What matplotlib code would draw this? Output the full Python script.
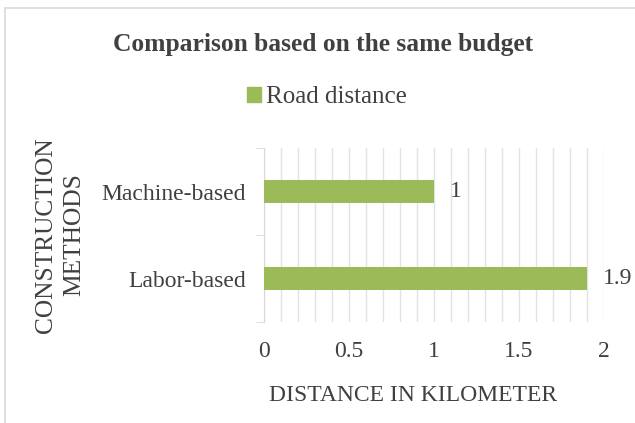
import matplotlib.pyplot as plt
from matplotlib.patches import Rectangle, Patch
from matplotlib.ticker import MultipleLocator, FixedLocator

categories = ['Labor-based', 'Machine-based']
distance = [1.9, 1.0]
value_labels = ['1.9', '1']
xticks = [0, 0.5, 1, 1.5, 2]
xtick_labels = ['0', '0.5', '1', '1.5', '2']

plt.rcParams['font.family'] = ['Liberation Serif', 'DejaVu Serif']
txt = '#404040'
green = '#9BBB59'

fig = plt.figure(figsize=(6.35, 4.23), dpi=100)
ax = fig.add_axes([264 / 635, 1 - 322 / 423, 340 / 635, 174 / 423])

# chart area border (left and top edges visible)
fig.patches.append(Rectangle((5 / 635, -0.1), 1.2, 1.1 - 8 / 423, transform=fig.transFigure,
                             fill=False, edgecolor='#d9d9d9', linewidth=1.2))

ypos = range(len(categories))
ax.barh(ypos, distance, height=0.26, color=green, zorder=3)
for y, v, lab in zip(ypos, distance, value_labels):
    ax.text(v + 0.094, y, lab, va='center', ha='left', fontsize=17, color=txt)

ax.set_xlim(0, 2)
ax.set_ylim(-0.5, 1.5)
ax.xaxis.set_major_locator(FixedLocator(xticks))
ax.xaxis.set_minor_locator(MultipleLocator(0.1))
ax.set_xticklabels(xtick_labels)
ax.grid(axis='x', which='both', color='#e3e3e3', linewidth=1.0, zorder=0)
ax.set_yticks(list(ypos))
ax.set_yticklabels(categories)
ax.yaxis.set_minor_locator(FixedLocator([-0.5, 0.5, 1.5]))
ax.tick_params(axis='y', which='major', length=0, pad=13, labelsize=17, labelcolor=txt)
ax.tick_params(axis='y', which='minor', length=6, color='#d9d9d9')
ax.tick_params(axis='x', which='both', length=0, pad=14, labelsize=17, labelcolor=txt)
for s in ['top', 'right', 'bottom']:
    ax.spines[s].set_visible(False)
ax.spines['left'].set_color('#d9d9d9')

fig.text(413 / 635, 1 - 395 / 423, 'DISTANCE IN KILOMETER', ha='center', va='center',
         fontsize=17, color=txt)
fig.text(60 / 635, 1 - 235 / 423, 'CONSTRUCTION\nMETHODS', rotation=90, ha='center', va='center',
         fontsize=18.3, color=txt, linespacing=1.4)

fig.text(323 / 635, 1 - 45 / 423, 'Comparison based on the same budget', ha='center', va='center',
         fontsize=18.4, fontweight='bold', color=txt)
fig.legend(handles=[Patch(color=green, label='Road distance')], loc='center',
           bbox_to_anchor=(327 / 635, 1 - 97 / 423), frameon=False, fontsize=18,
           handlelength=0.55, handleheight=0.55, handletextpad=0.2, labelcolor=txt,
           borderpad=0, borderaxespad=0)

fig.savefig('out.png', dpi=100)
